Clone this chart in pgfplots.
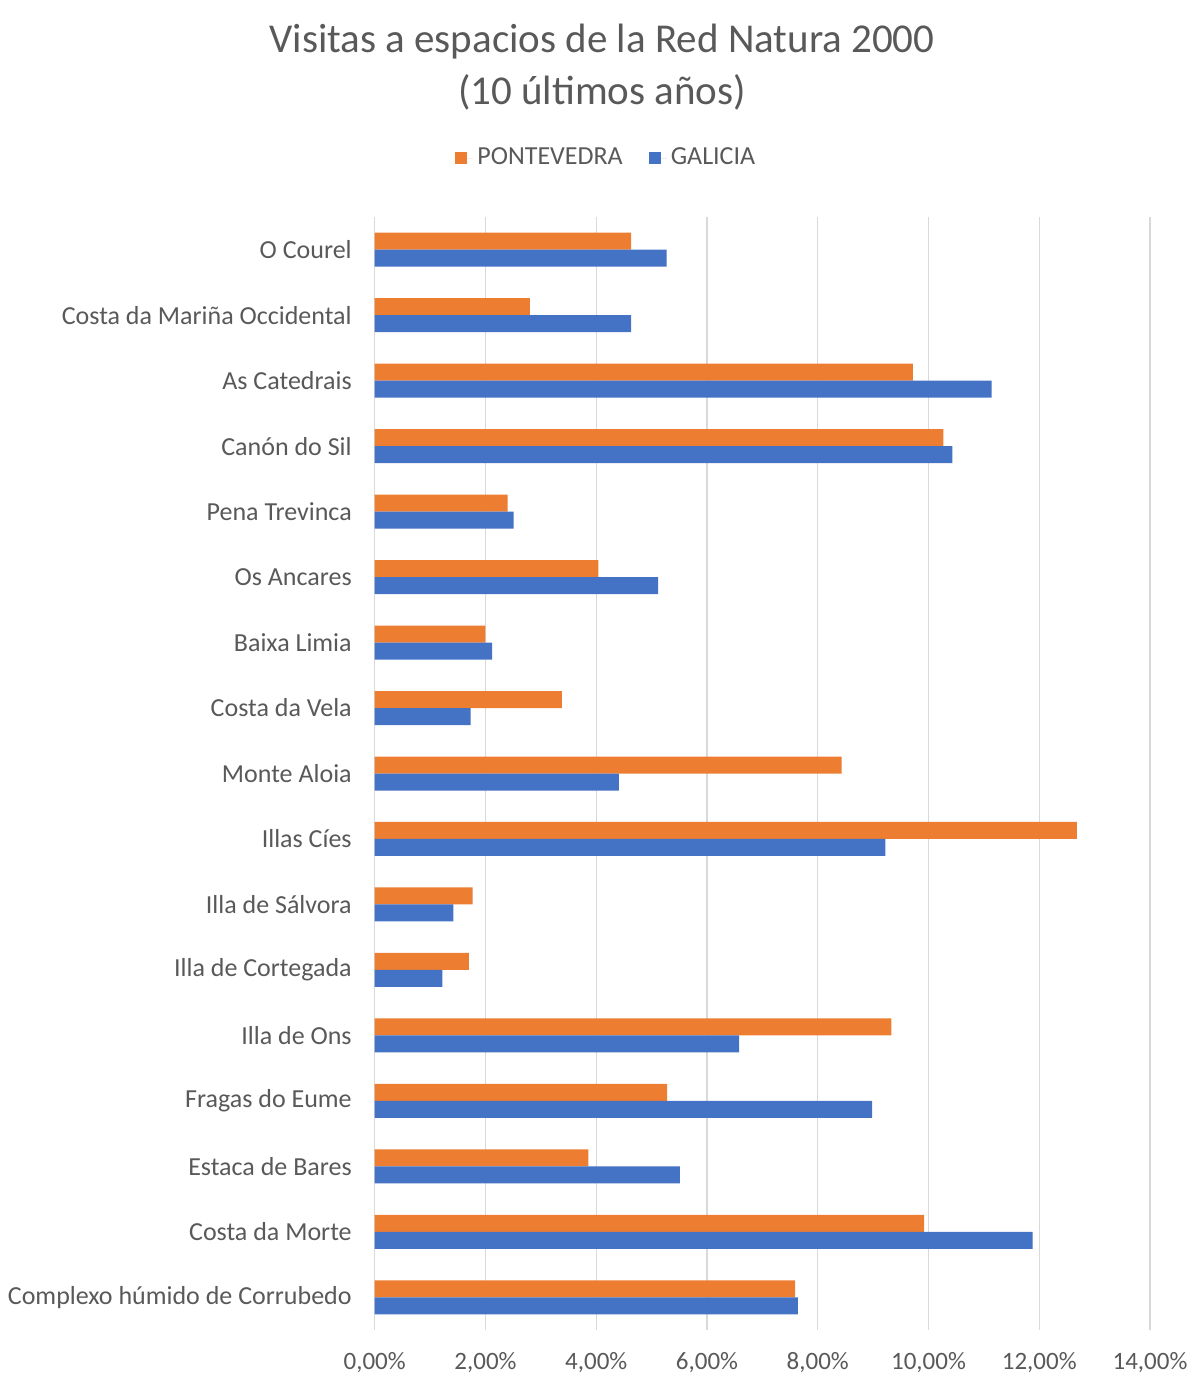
\documentclass[border=0pt]{standalone}
\usepackage{pgfplots}
\pgfplotsset{compat=1.18}
\usepackage{pgfplotstable}
\usepackage{fontspec}
\setmainfont{Carlito}
\definecolor{txt}{HTML}{595959}
\definecolor{grd}{HTML}{D9D9D9}
\definecolor{orng}{HTML}{ED7D31}
\definecolor{blu}{HTML}{4472C4}
\pgfplotstableread{
y pont gal
0 4.63 5.27
1 2.80 4.63
2 9.72 11.14
3 10.27 10.43
4 2.40 2.51
5 4.04 5.12
6 2.00 2.12
7 3.38 1.73
8 8.43 4.41
9 12.68 9.22
10 1.77 1.42
11 1.70 1.22
12 9.33 6.58
13 5.28 8.98
14 3.86 5.51
15 9.92 11.88
16 7.59 7.64
}\datatab
\begin{document}
\begin{tikzpicture}
\path[use as bounding box] (0,0) rectangle (600pt,695pt);
\node[text=txt, font=\fontsize{20.5}{24}\selectfont] at (301pt,674pt) {Visitas a espacios de la Red Natura 2000};
\node[text=txt, font=\fontsize{20.5}{24}\selectfont] at (301pt,649pt) {(10 últimos años)};
\begin{axis}[
  at={(187.35pt,30pt)}, anchor=south west,
  scale only axis, width=387.65pt, height=556.5pt,
  xmin=0, xmax=14, ymin=-0.5, ymax=16.5,
  y dir=reverse,
  xtick={0,2,...,14},
  ytick={0,...,16},
  yticklabels={O Courel, Costa da Mariña Occidental, As Catedrais, Canón do Sil, Pena Trevinca, Os Ancares, Baixa Limia, Costa da Vela, Monte Aloia, Illas Cíes, Illa de Sálvora, Illa de Cortegada, Illa de Ons, Fragas do Eume, Estaca de Bares, Costa da Morte, Complexo húmido de Corrubedo},
  xticklabel={\pgfmathprintnumber[fixed,fixed zerofill,precision=2,use comma]{\tick}\%},
  /pgf/number format/assume math mode=true,
  xmajorgrids, major grid style={draw=grd, line width=0.7pt},
  axis line style={draw=none},
  major tick length=0pt,
  tick label style={text=txt},
  xticklabel style={font=\fontsize{12.5}{14}\selectfont, anchor=center, inner sep=0pt, yshift=-16.5pt},
  yticklabel style={font=\fontsize{13}{15}\selectfont, anchor=east, inner sep=0pt, xshift=-11.3pt},
  xbar, bar width=8.5pt,
  legend style={draw=none, at={(0.300,1.053)}, anchor=center, legend columns=2, font=\fontsize{13}{15}\selectfont, text=txt,
    /tikz/every even column/.append style={column sep=11pt}},
  legend image code/.code={\fill[#1] (0pt,-3pt) rectangle (6pt,3pt); \path (0pt,0pt) -- (9pt,0pt);},
]
\addplot[fill=orng, draw=none, bar shift=4.25pt] table[x=pont, y=y] {\datatab};
\addplot[fill=blu, draw=none, bar shift=-4.25pt] table[x=gal, y=y] {\datatab};
\legend{PONTEVEDRA, GALICIA}
\end{axis}
\end{tikzpicture}
\end{document}
